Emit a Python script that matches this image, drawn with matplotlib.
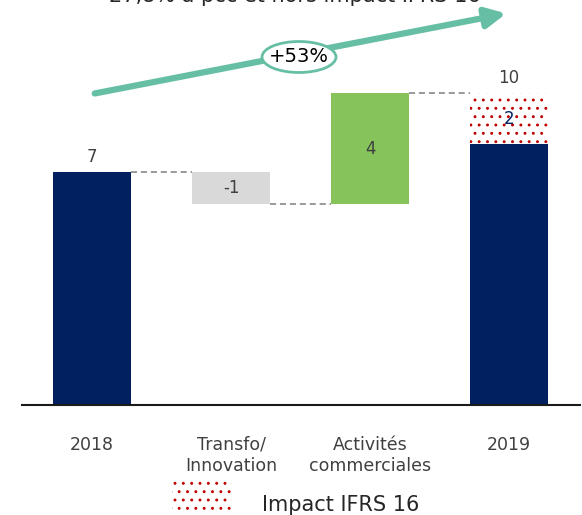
import matplotlib.pyplot as plt
import numpy as np
from matplotlib.patches import Ellipse, FancyArrowPatch, Rectangle

# data
categories = ['2018', 'Transfo/\nInnovation', 'Activités\ncommerciales', '2019']
start_value = 7.0
transfo = -0.96
activites = 3.33
end_base = 7.84
ifrs16 = 1.53
value_labels = ['7', '-1', '4', '10']
ifrs_label = '2'

navy = '#002060'
grey = '#d9d9d9'
green = '#86c35a'
red = '#c00000'
teal = '#66bfa5'
txt = '#404040'

plt.rcParams['font.family'] = 'DejaVu Sans'
plt.rcParams['hatch.linewidth'] = 0.9

fig = plt.figure(figsize=(5.82, 5.15), dpi=100)
ax = fig.add_axes([22/582, 110/515, 558/582, 405/515])

x = np.arange(len(categories))
w = 0.56

# waterfall bars
level1 = start_value + transfo
level2 = level1 + activites
ax.bar(x[0], start_value, w, color=navy)
ax.bar(x[1], -transfo, w, bottom=level1, color=grey)
ax.bar(x[2], activites, w, bottom=level1, color=green)
ax.bar(x[3], end_base, w, color=navy)
ax.bar(x[3], ifrs16, w, bottom=end_base, facecolor='white', edgecolor=red,
       hatch='..', linewidth=0)

# connectors
dash = dict(color='#7f7f7f', lw=1.1, ls=(0, (4, 2.5)))
ax.plot([x[0]+w/2, x[1]-w/2], [start_value, start_value], **dash)
ax.plot([x[1]+w/2, x[2]-w/2], [level1, level1], **dash)
ax.plot([x[2]+w/2, x[3]-w/2], [level2, level2], **dash)

# value labels
ax.text(x[0], start_value + 0.45, value_labels[0], ha='center', va='center', fontsize=12, color=txt)
ax.text(x[1], level1 - transfo/2, value_labels[1], ha='center', va='center', fontsize=12, color=txt)
ax.text(x[2], level1 + activites/2, value_labels[2], ha='center', va='center', fontsize=12, color=txt)
ax.text(x[3], level2 + 0.45, value_labels[3], ha='center', va='center', fontsize=12, color=txt)
ax.text(x[3], end_base + ifrs16/2, ifrs_label, ha='center', va='center', fontsize=12, color=navy)

ax.set_xlim(-0.504, 3.51)
ax.set_ylim(0, 405/(233/7))
ax.set_xticks(x, categories, fontsize=12.5, color=txt, linespacing=1.25)
ax.tick_params(axis='x', length=0, pad=22)
ax.set_yticks([])
for s in ['top', 'left', 'right']:
    ax.spines[s].set_visible(False)
ax.spines['bottom'].set_linewidth(1.5)
ax.spines['bottom'].set_color('#1a1a1a')

# growth arrow
arrow = FancyArrowPatch((92/582, 1-94/515), (509/582, 1-13/515), transform=fig.transFigure,
                        arrowstyle='-|>', mutation_scale=30, lw=4.5, color=teal, zorder=4)
fig.add_artist(arrow)
fig.add_artist(Ellipse((299/582, 1-57/515), 74/582, 31/515, transform=fig.transFigure,
                       facecolor='white', edgecolor=teal, lw=2, zorder=5))
fig.text(299/582, 1-57/515, '+53%', ha='center', va='center', fontsize=14, color='black', zorder=6)

fig.text(295/582, 1-2/515, '27,8% à pcc et hors impact IFRS 16', ha='center', va='baseline',
         fontsize=15, color='#262626')

# legend
fig.add_artist(Rectangle((172/582, 0), 60/582, 37/515, transform=fig.transFigure,
                         facecolor='white', edgecolor=red, hatch='..', lw=0))
fig.text(262/582, 1-505/515, 'Impact IFRS 16', ha='left', va='center', fontsize=15, color='#262626')

fig.savefig('out.png', dpi=100)
